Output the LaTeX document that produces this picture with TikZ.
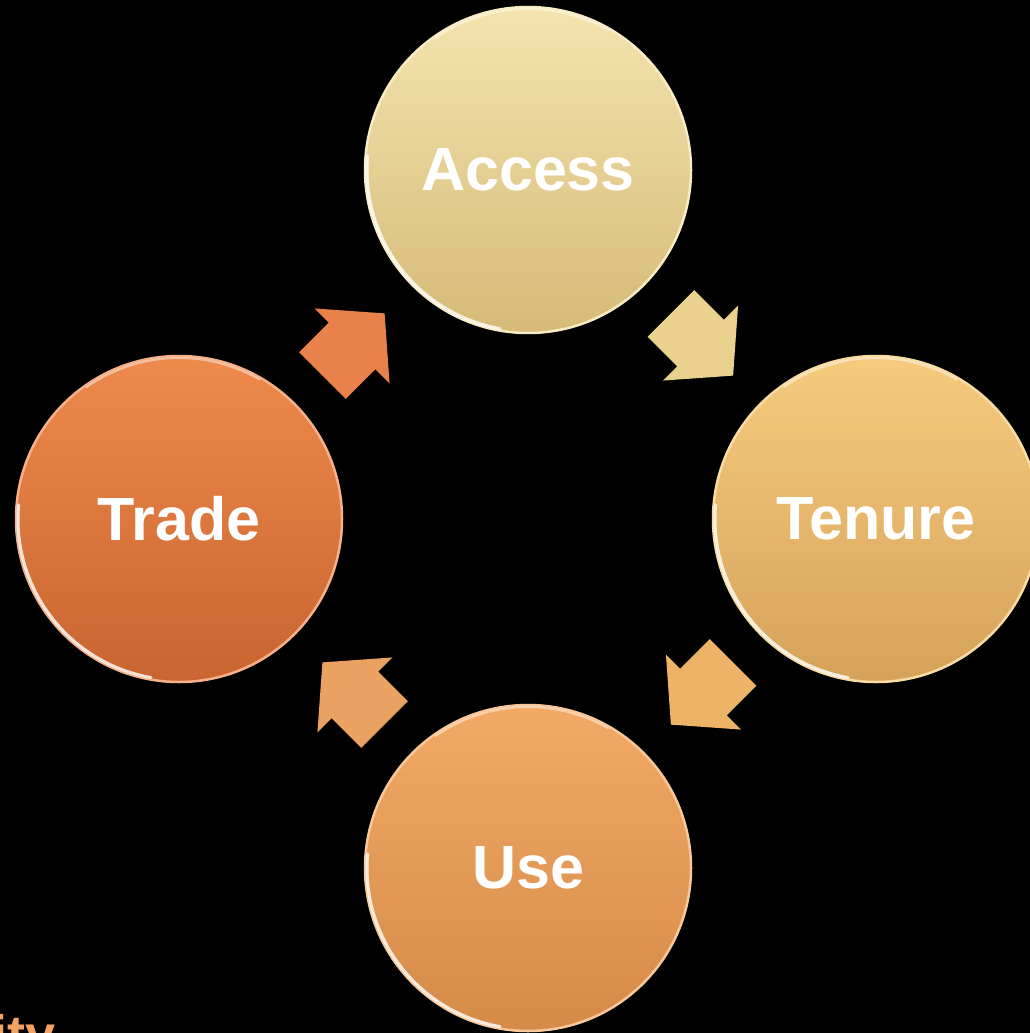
\documentclass[tikz,border=0pt]{standalone}
\usepackage{fontspec}
\setmainfont{Liberation Sans}
\usetikzlibrary{calc}
\definecolor{accTop}{HTML}{F4E4AE}
\definecolor{accBot}{HTML}{D6BA78}
\definecolor{accRim}{HTML}{F8ECC4}
\definecolor{tenTop}{HTML}{F6CB7E}
\definecolor{tenBot}{HTML}{D6A25A}
\definecolor{tenRim}{HTML}{F8DCA4}
\definecolor{useTop}{HTML}{F2AA66}
\definecolor{useBot}{HTML}{D68A48}
\definecolor{useRim}{HTML}{F8C89A}
\definecolor{traTop}{HTML}{EE8A4C}
\definecolor{traBot}{HTML}{CA6430}
\definecolor{traRim}{HTML}{F6B08A}
\definecolor{arrA}{HTML}{E8824A}
\definecolor{arrB}{HTML}{EAD28E}
\definecolor{arrC}{HTML}{EDB468}
\definecolor{arrD}{HTML}{EAA262}
\definecolor{ityCol}{HTML}{F4A263}
\tikzset{
  disc/.style={circle, minimum size=326pt, inner sep=0pt, text=white,
    font=\bfseries\fontsize{61}{70}\selectfont, line width=2.5pt},
  shine/.style={white, line width=3pt, line cap=round},
  blockarrow/.pic={\fill[pic actions] (-44,-33) -- (-2,-33) -- (-2,-53) -- (44,0)
     -- (-2,53) -- (-2,33) -- (-44,33) -- cycle;}
}
\begin{document}
\begin{tikzpicture}[x=1pt,y=-1pt]
\fill[black] (0,0) rectangle (1030,1033);
\useasboundingbox (0,0) rectangle (1030,1033);
\clip (0,0) rectangle (1030,1033);

\node[disc, top color=accTop, bottom color=accBot, draw=accRim] (access) at (528,170) {Access};
\node[disc, top color=tenTop, bottom color=tenBot, draw=tenRim] (tenure) at (876,519) {Tenure};
\node[disc, top color=useTop, bottom color=useBot, draw=useRim] (use) at (528,868) {Use};
\node[disc, top color=traTop, bottom color=traBot, draw=traRim] (trade) at (179,519) {Trade};

\foreach \n in {access,tenure,use,trade}{
  \draw[shine, opacity=.8] ($(\n.center)+(100:161)$) arc[start angle=100, end angle=185, radius=161];
  \draw[shine, opacity=.45, line width=2pt] ($(\n.center)+(235:161)$) arc[start angle=235, end angle=300, radius=161];
}

\pic[rotate=45, fill=arrA] at ($(trade)!0.5!(access)$) {blockarrow};
\pic[rotate=-45, fill=arrB] at ($(access)!0.5!(tenure)$) {blockarrow};
\pic[rotate=-135, fill=arrC] at ($(tenure)!0.5!(use)$) {blockarrow};
\pic[rotate=135, fill=arrD] at ($(use)!0.5!(trade)$) {blockarrow};

\node[anchor=base west, inner sep=0pt, text=ityCol, font=\bfseries\fontsize{54}{62}\selectfont] (ity) at (-8,1053) {ity};
\end{tikzpicture}
\end{document}
